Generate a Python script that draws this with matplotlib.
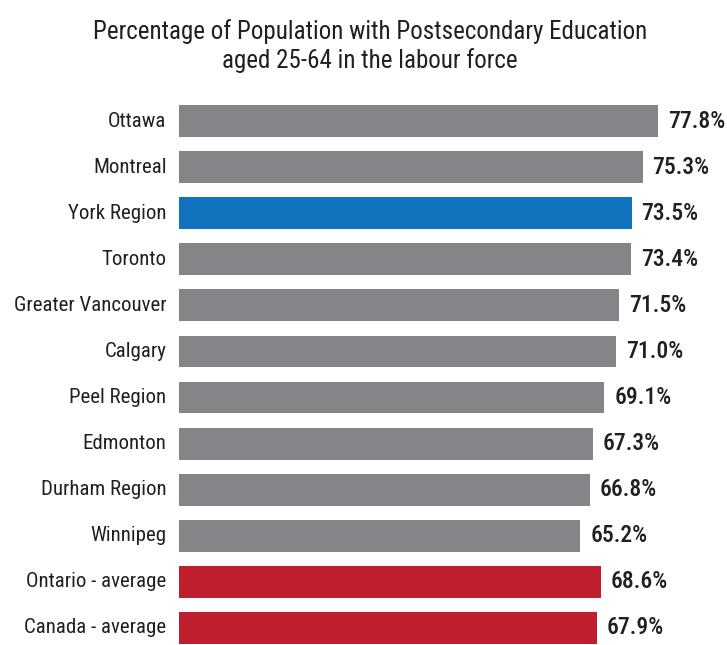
import matplotlib
matplotlib.use('Agg')
import matplotlib.pyplot as plt
from matplotlib import font_manager

regions = ['Ottawa', 'Montreal', 'York Region', 'Toronto', 'Greater Vancouver',
           'Calgary', 'Peel Region', 'Edmonton', 'Durham Region', 'Winnipeg',
           'Ontario - average', 'Canada - average']
values = [77.8, 75.3, 73.5, 73.4, 71.5, 71.0, 69.1, 67.3, 66.8, 65.2, 68.6, 67.9]
value_labels = ['77.8%', '75.3%', '73.5%', '73.4%', '71.5%', '71.0%', '69.1%',
                '67.3%', '66.8%', '65.2%', '68.6%', '67.9%']

gray = '#848589'
blue = '#1172be'
red = '#be1e2d'
colors = [gray, gray, blue] + [gray] * 7 + [red, red]

# narrowest font we can find
names = {f.name for f in font_manager.fontManager.ttflist}
prefs = ['Roboto Condensed', 'Liberation Sans Narrow', 'Open Sans Condensed',
         'DejaVu Sans Condensed', 'Roboto', 'DejaVu Sans']
font = next(p for p in prefs if p in names)
plt.rcParams['font.family'] = [font, 'DejaVu Sans']

fig = plt.figure(figsize=(7.27, 6.45), dpi=100)
ax = fig.add_axes([179 / 727, 0, 1 - 179 / 727, (645 - 98) / 645])

ypos = list(range(len(regions)))
ax.barh(ypos, values, height=0.69, color=colors)
ax.set_xlim(0, (727 - 179) / 6.157)
ax.set_ylim(11.37, -0.5)
ax.axis('off')

for y, v, name, lab in zip(ypos, values, regions, value_labels):
    ax.annotate(name, (0, y), xytext=(-9, 0), textcoords='offset points',
                ha='right', va='center', fontsize=15, color='#231f20')
    ax.annotate(lab, (v, y), xytext=(7, 0), textcoords='offset points',
                ha='left', va='center', fontsize=17, fontweight='medium',
                color='#231f20')

fig.text(370 / 727, 1 - 46 / 645,
         'Percentage of Population with Postsecondary Education\naged 25-64 in the labour force',
         ha='center', va='center', fontsize=18, color='#231f20', linespacing=1.22)

fig.savefig('out.png', dpi=100)
